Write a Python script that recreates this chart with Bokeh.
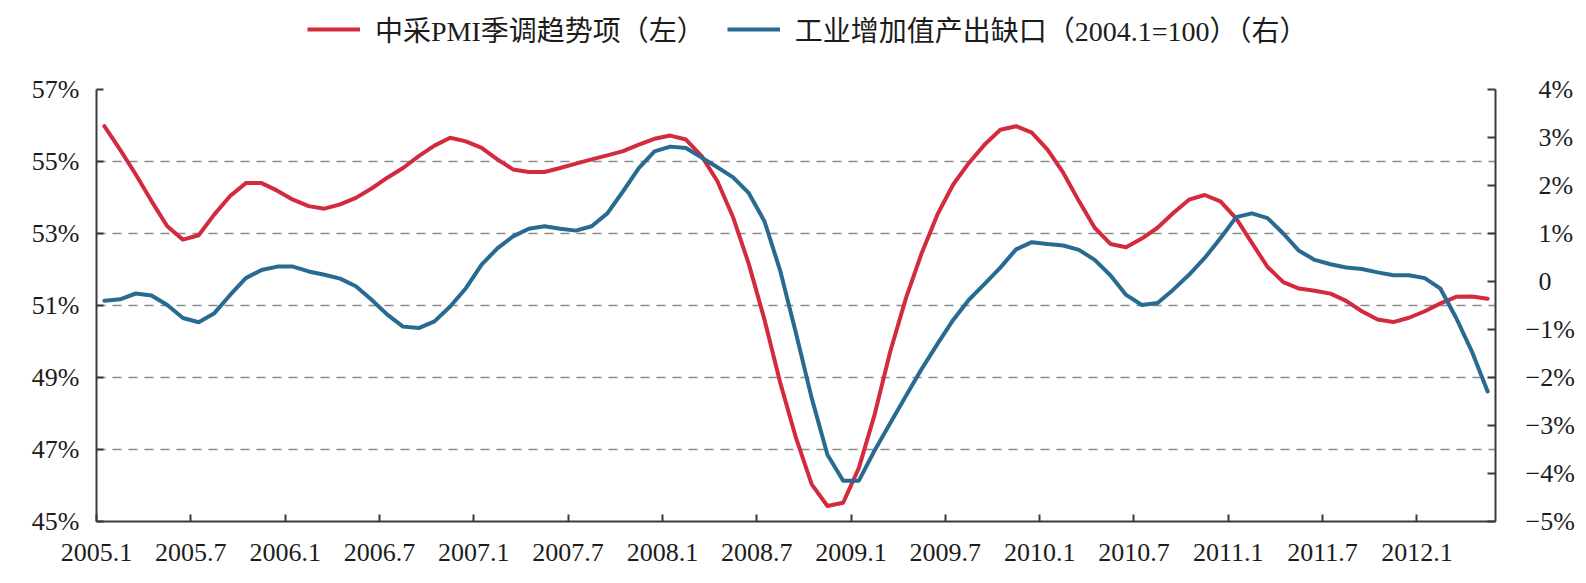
from bokeh.plotting import figure
from bokeh.layouts import column
from bokeh.models import (Range1d, LinearAxis, FixedTicker, Legend, LegendItem,
                          ColumnDataSource)
from bokeh.embed import file_html
from bokeh.resources import INLINE

# Monthly observations, 2005.1 .. 2012.5
months = [f"{2005 + k // 12}.{k % 12 + 1}" for k in range(89)]

# China PMI, seasonally adjusted trend component (%), left axis
pmi_trend = [
    55.98, 55.33, 54.64, 53.90, 53.20, 52.83, 52.95, 53.53, 54.04, 54.40,
    54.40, 54.19, 53.94, 53.76, 53.69, 53.81, 53.99, 54.25, 54.55, 54.82,
    55.15, 55.44, 55.66, 55.56, 55.38, 55.06, 54.78, 54.71, 54.71, 54.82,
    54.94, 55.06, 55.17, 55.29, 55.47, 55.63, 55.72, 55.61, 55.15, 54.45,
    53.45, 52.15, 50.60, 48.85, 47.32, 46.03, 45.43, 45.52, 46.49, 47.97,
    49.73, 51.21, 52.46, 53.53, 54.36, 54.96, 55.47, 55.88, 55.98, 55.80,
    55.33, 54.69, 53.90, 53.16, 52.71, 52.62, 52.86, 53.16, 53.57, 53.94,
    54.07, 53.89, 53.42, 52.74, 52.07, 51.65, 51.47, 51.41, 51.33, 51.13,
    50.84, 50.61, 50.54, 50.66, 50.84, 51.06, 51.24, 51.25, 51.19,
]

# Industrial value-added output gap, base 2004.1 = 100 (%), right axis
output_gap = [
    -0.40, -0.37, -0.25, -0.29, -0.49, -0.76, -0.85, -0.66, -0.28, 0.07,
    0.24, 0.31, 0.31, 0.21, 0.14, 0.06, -0.10, -0.38, -0.69, -0.94,
    -0.97, -0.83, -0.52, -0.14, 0.35, 0.69, 0.94, 1.10, 1.15, 1.10,
    1.06, 1.15, 1.42, 1.88, 2.36, 2.71, 2.81, 2.78, 2.58, 2.38,
    2.17, 1.84, 1.25, 0.22, -1.08, -2.43, -3.61, -4.15, -4.15, -3.52,
    -2.95, -2.38, -1.82, -1.30, -0.80, -0.38, -0.05, 0.29, 0.67, 0.82,
    0.78, 0.75, 0.66, 0.45, 0.13, -0.28, -0.49, -0.45, -0.17, 0.14,
    0.49, 0.90, 1.34, 1.42, 1.32, 1.00, 0.64, 0.45, 0.36, 0.29,
    0.26, 0.19, 0.13, 0.13, 0.07, -0.15, -0.76, -1.46, -2.29,
]

left_ticks = [45, 47, 49, 51, 53, 55, 57]
right_ticks = [-5, -4, -3, -2, -1, 0, 1, 2, 3, 4]
x_tick_idx = list(range(0, 85, 6))

pmi_label = "中采PMI季调趋势项（左）"
gap_label = "工业增加值产出缺口（2004.1=100）（右）"

RED = "#D42A3D"
BLUE = "#286A91"
AXIS = "#3a3a3a"
TEXT = "#1c1c1c"
TICK_FONT = "Liberation Serif"
LEGEND_FONT = "Liberation Serif, Noto Sans CJK SC"
LINE_W = 4

# ---- main chart -----------------------------------------------------------
# categories sit between tick marks: centre of month k is k + 0.5
xs = [k + 0.5 for k in range(len(months))]
src = ColumnDataSource(dict(x=xs, pmi=pmi_trend, gap=output_gap))

p = figure(width=1586, height=509, output_backend="svg", toolbar_location=None,
           x_range=Range1d(0, len(months)), y_range=Range1d(45, 57),
           min_border_left=96, min_border_right=91, min_border_top=15,
           min_border_bottom=62)
p.extra_y_ranges = {"right": Range1d(-5, 4)}
p.outline_line_color = None
p.background_fill_color = "white"
p.border_fill_color = "white"


def style_axis(ax, tick_in, standoff):
    ax.major_tick_in = tick_in
    ax.major_tick_out = 0
    ax.minor_tick_line_color = None
    ax.axis_line_width = 2
    ax.axis_line_color = AXIS
    ax.major_tick_line_color = AXIS
    ax.major_tick_line_width = 2
    ax.major_label_text_font = TICK_FONT
    ax.major_label_text_font_size = "26px"
    ax.major_label_text_color = TEXT
    ax.major_label_standoff = standoff


# left axis
ya = p.yaxis[0]
ya.ticker = FixedTicker(ticks=left_ticks)
ya.major_label_overrides = {t: f"{t}%" for t in left_ticks}
style_axis(ya, 7, 17)

# bottom axis
xa = p.xaxis[0]
xa.ticker = FixedTicker(ticks=x_tick_idx)
xa.major_label_overrides = {k: months[k] for k in x_tick_idx}
style_axis(xa, 7, 22)


def right_fmt(v):
    if v < 0:
        return f"\u2212{-v}%"
    if v == 0:
        return "\u20020"
    return f"\u2002{v}%"


ra = LinearAxis(y_range_name="right", ticker=FixedTicker(ticks=right_ticks))
ra.major_label_overrides = {t: right_fmt(t) for t in right_ticks}
style_axis(ra, 8, 30)
p.add_layout(ra, "right")

# dashed horizontal grid on the left-axis ticks
p.xgrid.grid_line_color = None
p.ygrid.grid_line_color = "#8a8a8a"
p.ygrid.grid_line_width = 1.6
p.ygrid.grid_line_dash = "9 7"

p.line("x", "pmi", source=src, line_color=RED, line_width=LINE_W,
       line_join="round", line_cap="round")
p.line("x", "gap", source=src, y_range_name="right", line_color=BLUE,
       line_width=LINE_W, line_join="round", line_cap="round")

# ---- legend strip above the chart ----------------------------------------
# the key renderers share the series data; the strip's y range lies far
# above every value, so its frame stays empty and only the legend shows
head = figure(width=1586, height=74, output_backend="svg", toolbar_location=None,
              x_range=Range1d(0, len(months)), y_range=Range1d(1000, 1001),
              x_axis_location=None, y_axis_location=None,
              min_border=0)
head.outline_line_color = None
head.grid.visible = False
key_pmi = head.line("x", "pmi", source=src, line_color=RED, line_width=LINE_W)
key_gap = head.line("x", "gap", source=src, line_color=BLUE, line_width=LINE_W)

legend = Legend(items=[LegendItem(label=pmi_label, renderers=[key_pmi]),
                       LegendItem(label=gap_label, renderers=[key_gap])],
                orientation="horizontal", location=(211, 25),
                padding=0, margin=0, spacing=22, label_standoff=15,
                glyph_width=53, glyph_height=32, label_height=32,
                border_line_color=None, background_fill_alpha=0,
                label_text_font=LEGEND_FONT, label_text_font_size="28px",
                label_text_color=TEXT)
head.add_layout(legend)

page = column(head, p, spacing=0)
open("out.html", "w").write(file_html(page, INLINE))
